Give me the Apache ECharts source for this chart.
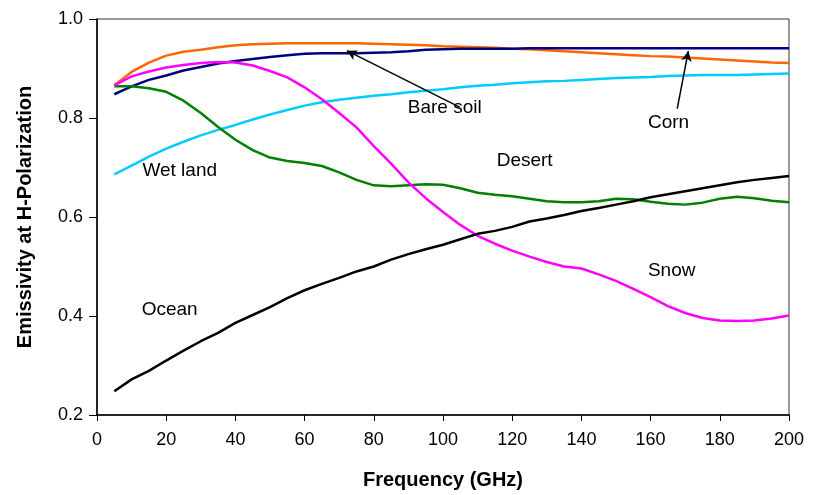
<!DOCTYPE html>
<html>
<head>
<meta charset="utf-8">
<script src="https://cdn.jsdelivr.net/npm/echarts@6/dist/echarts.min.js"></script>
<style>html,body{margin:0;padding:0;background:#fff}#c{width:816px;height:495px}</style>
</head>
<body>
<div id="c"></div>
<script>
const freq = [5,10,15,20,25,30,35,40,45,50,55,60,65,70,75,80,85,90,95,100,105,110,115,120,125,130,135,140,145,150,155,160,165,170,175,180,185,190,195,200];
const corn = [0.866,0.893,0.912,0.926,0.934,0.938,0.943,0.947,0.949,0.950,0.951,0.951,0.951,0.951,0.951,0.950,0.949,0.948,0.947,0.945,0.944,0.943,0.942,0.940,0.939,0.937,0.935,0.933,0.931,0.929,0.927,0.925,0.924,0.922,0.920,0.918,0.916,0.914,0.912,0.911];
const bareSoil = [0.848,0.864,0.877,0.886,0.896,0.903,0.910,0.915,0.919,0.923,0.927,0.930,0.931,0.931,0.931,0.932,0.933,0.935,0.938,0.939,0.940,0.940,0.940,0.940,0.941,0.941,0.941,0.941,0.941,0.941,0.941,0.941,0.941,0.941,0.941,0.941,0.941,0.941,0.941,0.941];
const wetLand = [0.686,0.704,0.722,0.738,0.752,0.765,0.776,0.786,0.797,0.807,0.816,0.825,0.832,0.837,0.841,0.845,0.848,0.852,0.855,0.858,0.862,0.865,0.867,0.870,0.872,0.874,0.875,0.877,0.879,0.881,0.882,0.883,0.885,0.886,0.887,0.887,0.887,0.888,0.889,0.890];
const desert = [0.864,0.864,0.860,0.853,0.835,0.810,0.782,0.756,0.735,0.720,0.713,0.709,0.703,0.690,0.675,0.664,0.662,0.664,0.666,0.665,0.658,0.649,0.645,0.642,0.637,0.632,0.630,0.630,0.632,0.637,0.636,0.631,0.627,0.625,0.629,0.637,0.641,0.638,0.633,0.630];
const snow = [0.866,0.884,0.894,0.902,0.907,0.911,0.913,0.912,0.906,0.895,0.882,0.862,0.838,0.810,0.781,0.743,0.708,0.670,0.638,0.610,0.584,0.562,0.546,0.532,0.520,0.509,0.500,0.496,0.484,0.471,0.455,0.438,0.420,0.406,0.396,0.391,0.390,0.391,0.395,0.401];
const ocean = [0.248,0.272,0.289,0.310,0.330,0.349,0.366,0.386,0.402,0.418,0.436,0.452,0.465,0.477,0.490,0.500,0.514,0.525,0.535,0.544,0.555,0.566,0.572,0.580,0.591,0.597,0.604,0.612,0.618,0.625,0.632,0.640,0.646,0.652,0.658,0.664,0.670,0.675,0.679,0.683];

const labelNames = ['Bare soil','Corn','Desert','Wet land','Ocean','Snow'];
const labelX = [100.5,165.2,123.6,23.9,21.0,166.1];
const labelY = [0.820,0.791,0.713,0.694,0.412,0.492];

const arrowFrom = [[104.8,0.822],[167.7,0.819]];
const arrowTo = [[72.2,0.936],[170.9,0.935]];

const seriesDefs = [
  ['Corn', corn, '#FF6600'],
  ['Bare soil', bareSoil, '#000080'],
  ['Wet land', wetLand, '#00CCFF'],
  ['Desert', desert, '#008000'],
  ['Snow', snow, '#FF00FF'],
  ['Ocean', ocean, '#000000']
];

const FONT = '"Liberation Sans", Arial, sans-serif';
const chart = echarts.init(document.getElementById('c'), null, {renderer:'canvas'});

const series = seriesDefs.map(([name, vals, color]) => ({
  name, type:'line', data: freq.map((f,i)=>[f, vals[i]]),
  showSymbol:false, symbol:'none', lineStyle:{color, width:2.5}, itemStyle:{color},
  animation:false, z:2
}));

series.push({
  type:'custom', name:'labels', animation:false, silent:true, z:5,
  data: labelNames.map((n,i)=>[labelX[i], labelY[i], i]),
  renderItem: (params, api) => {
    const p = api.coord([api.value(0), api.value(1)]);
    return {
      type:'text', x:p[0], y:p[1],
      style:{text: labelNames[api.value(2)], fill:'#000', font:'19px ' + FONT, align:'center', verticalAlign:'middle'}
    };
  }
});

series.push({
  type:'line', name:'arrows', data:[], animation:false, silent:true,
  markLine:{
    silent:true, animation:false, symbol:['none','arrow'], symbolSize:[8,10],
    lineStyle:{color:'#000', width:1.5, type:'solid'}, label:{show:false},
    data: arrowFrom.map((a,i)=>[{coord:a},{coord:arrowTo[i]}])
  }
});

chart.setOption({
  backgroundColor:'#fff',
  animation:false,
  grid:{left:97, right:27, top:19, bottom:80, show:true, borderColor:'#333', borderWidth:1},
  xAxis:{
    type:'value', min:0, max:200, interval:20,
    name:'Frequency (GHz)', nameLocation:'middle', nameGap:55,
    nameTextStyle:{fontSize:20, fontWeight:'bold', color:'#000', fontFamily:FONT},
    axisLine:{show:true, onZero:false, lineStyle:{color:'#000', width:1.5}},
    axisTick:{show:true, length:6, lineStyle:{color:'#000'}},
    axisLabel:{fontSize:18, color:'#000', margin:16, fontFamily:FONT},
    splitLine:{show:false}
  },
  yAxis:{
    type:'value', min:0.2, max:1.0, interval:0.2,
    name:'Emissivity at H-Polarization', nameLocation:'middle', nameGap:62,
    nameTextStyle:{fontSize:20, fontWeight:'bold', color:'#000', fontFamily:FONT},
    axisLine:{show:true, onZero:false, lineStyle:{color:'#000', width:1.5}},
    axisTick:{show:true, length:8, lineStyle:{color:'#000'}},
    axisLabel:{fontSize:18, color:'#000', margin:14, fontFamily:FONT, formatter:v=>v.toFixed(1)},
    splitLine:{show:false}
  },
  series
});
</script>
</body>
</html>
